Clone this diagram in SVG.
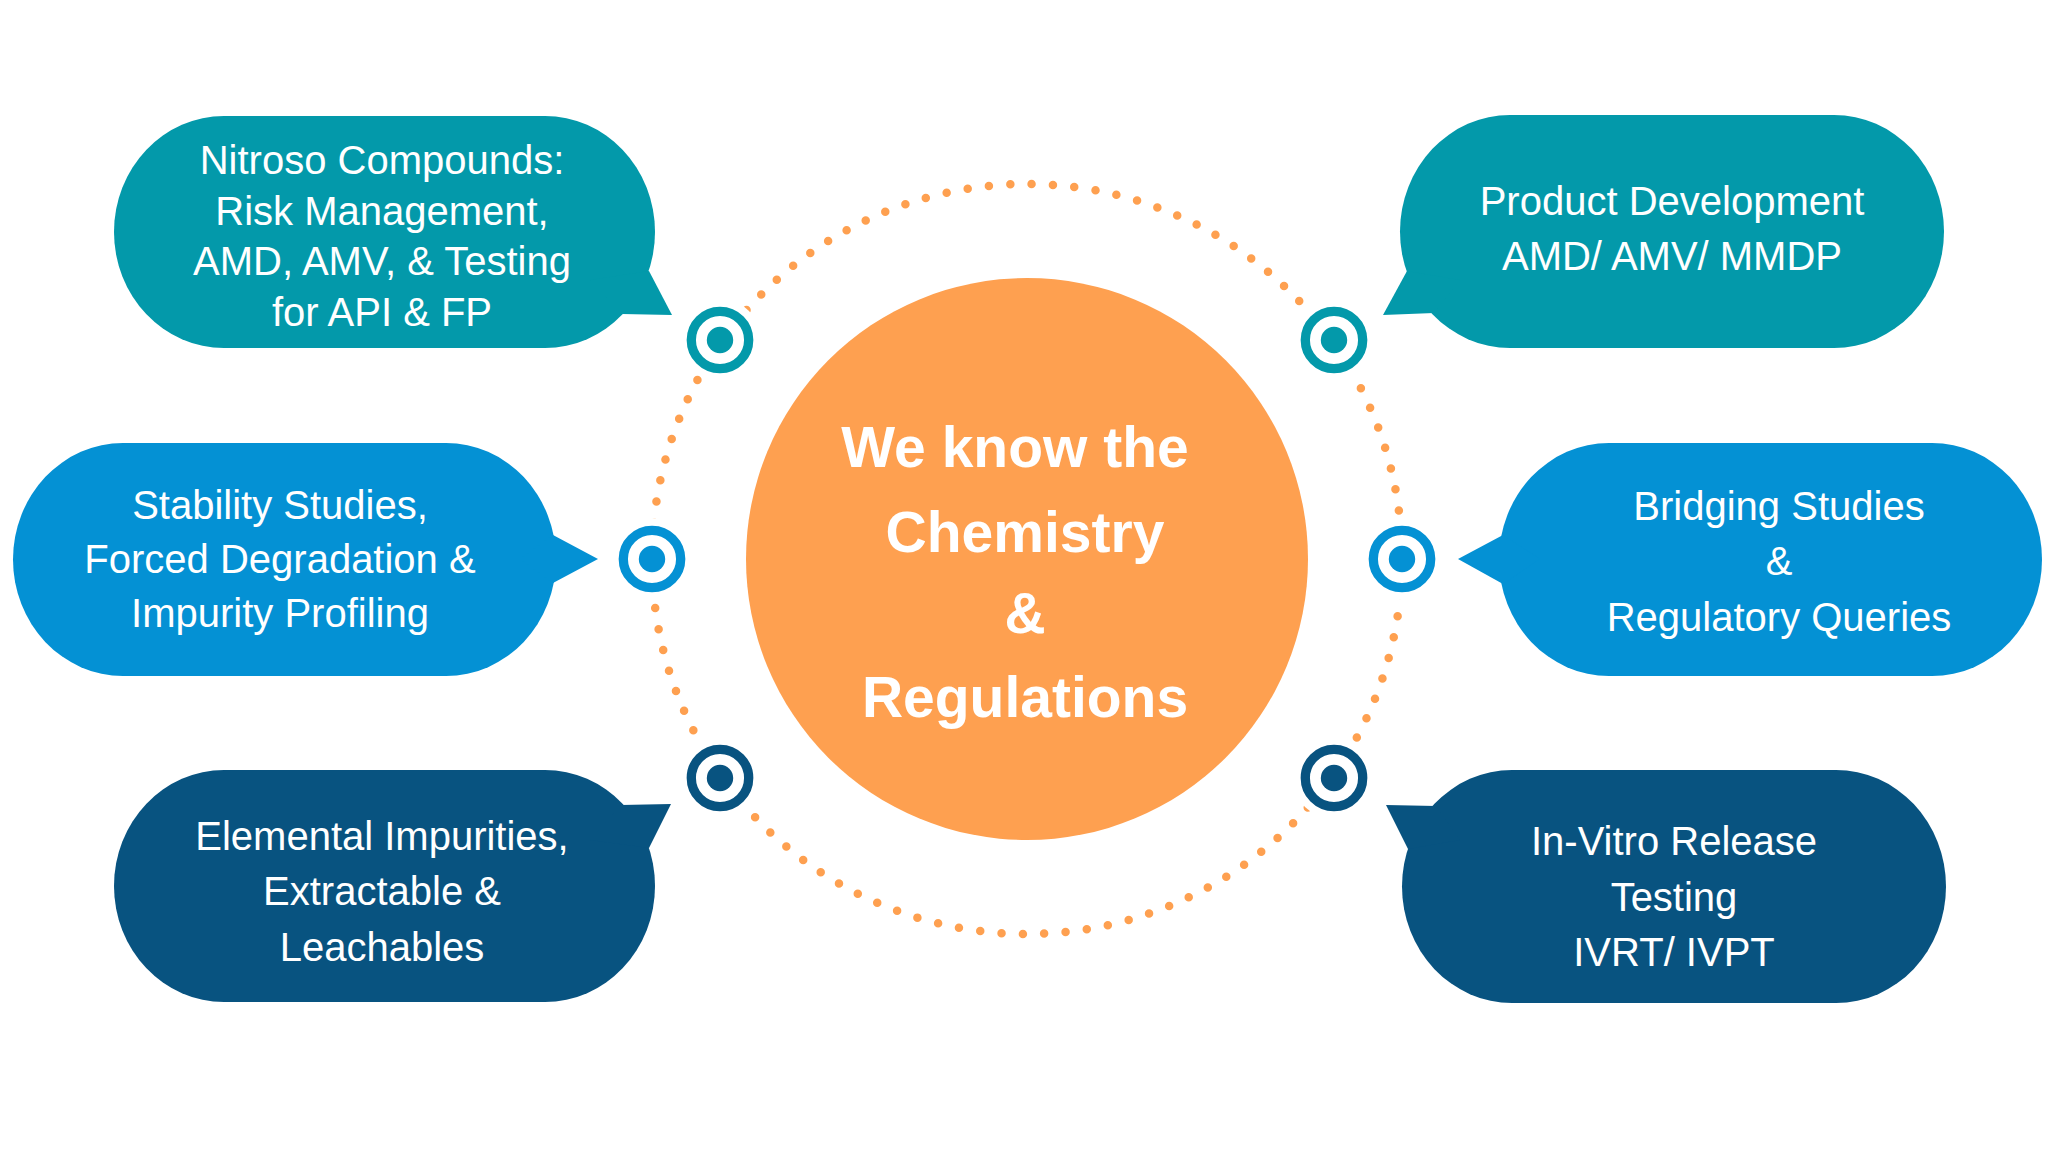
<svg xmlns="http://www.w3.org/2000/svg" width="2049" height="1152" viewBox="0 0 2049 1152">
  <defs>
    <style>
      .teal { fill: #0399AA; }
      .blue { fill: #0491D4; }
      .navy { fill: #085380; }
      .lbl { font-family: "Liberation Sans", Arial, sans-serif; font-size: 40px; fill: #FFFFFF; text-anchor: middle; }
      .hub { font-family: "Liberation Sans", Arial, sans-serif; font-size: 57px; font-weight: bold; fill: #FFFFFF; text-anchor: middle; }
      .ring-t { fill: none; stroke: #0399AA; stroke-width: 9.3; }
      .ring-b { fill: none; stroke: #0491D4; stroke-width: 9.3; }
      .ring-n { fill: none; stroke: #085380; stroke-width: 9.3; }
      .mask { fill: #FFFFFF; }
    </style>
  </defs>
  <rect width="2049" height="1152" fill="#FFFFFF"/>

  <g id="connectors">
    <circle cx="1027" cy="559" r="375" fill="none" stroke="#FEA050" stroke-width="8.5" stroke-linecap="round" stroke-dasharray="0 21.42" stroke-dashoffset="6.8"/>
  </g>

  <g id="hub">
    <circle cx="1027" cy="559" r="281" fill="#FEA050"/>
    <text class="hub" x="1015" y="467">We know the</text>
    <text class="hub" x="1025" y="552">Chemistry</text>
    <text class="hub" x="1025" y="633">&amp;</text>
    <text class="hub" x="1025" y="717">Regulations</text>
  </g>

  <g id="target-tl">
    <circle class="mask" cx="720" cy="340" r="41"/>
    <circle class="ring-t" cx="720" cy="340" r="28.7"/>
    <circle class="teal" cx="720" cy="340" r="13.2"/>
  </g>
  <g id="target-tr">
    <circle class="mask" cx="1334" cy="340" r="41"/>
    <circle class="ring-t" cx="1334" cy="340" r="28.7"/>
    <circle class="teal" cx="1334" cy="340" r="13.2"/>
  </g>
  <g id="target-ml">
    <circle class="mask" cx="652" cy="559" r="41"/>
    <circle class="ring-b" cx="652" cy="559" r="28.7"/>
    <circle class="blue" cx="652" cy="559" r="13.2"/>
  </g>
  <g id="target-mr">
    <circle class="mask" cx="1402" cy="559" r="41"/>
    <circle class="ring-b" cx="1402" cy="559" r="28.7"/>
    <circle class="blue" cx="1402" cy="559" r="13.2"/>
  </g>
  <g id="target-bl">
    <circle class="mask" cx="720" cy="778" r="41"/>
    <circle class="ring-n" cx="720" cy="778" r="28.7"/>
    <circle class="navy" cx="720" cy="778" r="13.2"/>
  </g>
  <g id="target-br">
    <circle class="mask" cx="1334" cy="778" r="41"/>
    <circle class="ring-n" cx="1334" cy="778" r="28.7"/>
    <circle class="navy" cx="1334" cy="778" r="13.2"/>
  </g>

  <g id="node-nitroso">
    <rect class="teal" x="114" y="116" width="541" height="232" rx="110" ry="116"/>
    <polygon class="teal" points="649,271 672,315 622,314 590,280"/>
    <text class="lbl" x="382" y="174">Nitroso Compounds:</text>
    <text class="lbl" x="382" y="224.5">Risk Management,</text>
    <text class="lbl" x="382" y="275">AMD, AMV, &amp; Testing</text>
    <text class="lbl" x="382" y="326">for API &amp; FP</text>
  </g>

  <g id="node-stability">
    <rect class="blue" x="13" y="443" width="543" height="233" rx="110" ry="116.5"/>
    <polygon class="blue" points="553,535 598,559 553,583 520,559"/>
    <text class="lbl" x="280" y="519">Stability Studies,</text>
    <text class="lbl" x="280" y="573">Forced Degradation &amp;</text>
    <text class="lbl" x="280" y="627">Impurity Profiling</text>
  </g>

  <g id="node-elemental">
    <rect class="navy" x="114" y="770" width="541" height="232" rx="110" ry="116"/>
    <polygon class="navy" points="621,805 671,804 649,848 590,840"/>
    <text class="lbl" x="382" y="850">Elemental Impurities,</text>
    <text class="lbl" x="382" y="905">Extractable &amp;</text>
    <text class="lbl" x="382" y="961">Leachables</text>
  </g>

  <g id="node-product">
    <rect class="teal" x="1400" y="115" width="544" height="233" rx="110" ry="116.5"/>
    <polygon class="teal" points="1407,271 1383,315 1434,313 1460,280"/>
    <text class="lbl" x="1672" y="215">Product Development</text>
    <text class="lbl" x="1672" y="270">AMD/ AMV/ MMDP</text>
  </g>

  <g id="node-bridging">
    <rect class="blue" x="1499" y="443" width="543" height="233" rx="110" ry="116.5"/>
    <polygon class="blue" points="1503,535 1458,559 1503,584 1540,559"/>
    <text class="lbl" x="1779" y="520">Bridging Studies</text>
    <text class="lbl" x="1779" y="575">&amp;</text>
    <text class="lbl" x="1779" y="631">Regulatory Queries</text>
  </g>

  <g id="node-invitro">
    <rect class="navy" x="1402" y="770" width="544" height="233" rx="110" ry="116.5"/>
    <polygon class="navy" points="1436,806 1386,805 1408,849 1460,840"/>
    <text class="lbl" x="1674" y="855">In-Vitro Release</text>
    <text class="lbl" x="1674" y="911">Testing</text>
    <text class="lbl" x="1674" y="966">IVRT/ IVPT</text>
  </g>
</svg>
